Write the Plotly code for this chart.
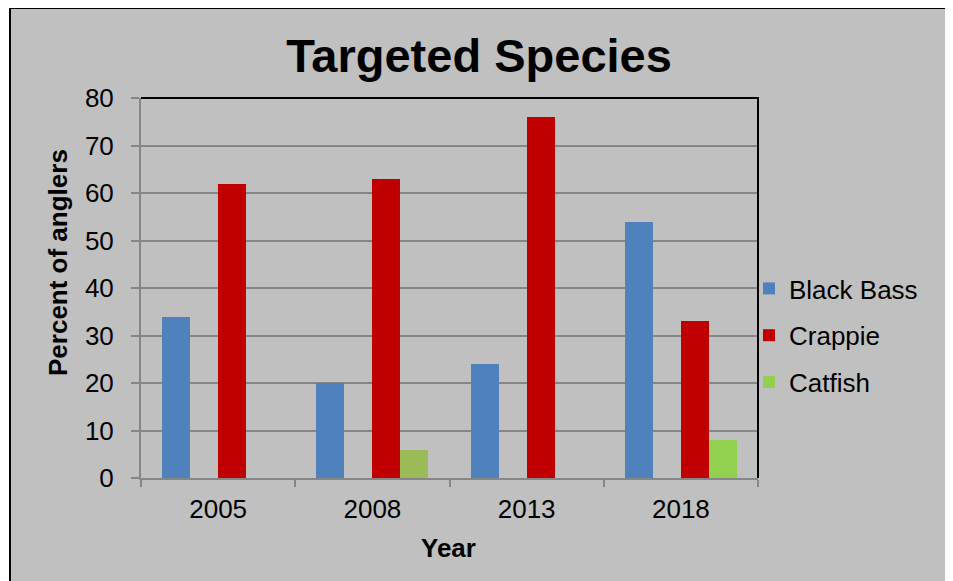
import plotly.graph_objects as go

years = ["2005", "2008", "2013", "2018"]
black_bass = [34, 20, 24, 54]
crappie = [62, 63, 76, 33]
catfish = [0, 6, 0, 8]
catfish_colors = ["#92D050", "#9BBB59", "#92D050", "#92D050"]
y_ticks = [0, 10, 20, 30, 40, 50, 60, 70, 80]

FONT = "Liberation Sans, Arial, sans-serif"
W, H = 953, 581
OFF = 8  # page body margin offset
PL, PT, PW, PH = 141, 98, 617, 380  # plot area in reference pixels
ML, MT = PL - OFF, PT - OFF
MR = W - ML - PW
MB = H - MT - PH


def px2x(px):
    return (px - PL) / PW


def py2y(py):
    return (PT + PH - py) / PH


bw = 28 / 154
fig = go.Figure()
fig.add_trace(go.Bar(x=years, y=black_bass, name="Black Bass", marker_color="#4F81BD",
                     marker_line_width=0, width=bw, offset=-2 * bw, legendgroup="a"))
fig.add_trace(go.Bar(x=years, y=crappie, name="Crappie", marker_color="#C00000",
                     marker_line_width=0, width=bw, offset=0, legendgroup="b"))
fig.add_trace(go.Bar(x=years, y=catfish, name="Catfish", marker_color=catfish_colors,
                     marker_line_width=0, width=bw, offset=bw, legendgroup="c"))

fig.update_layout(
    width=W, height=H,
    margin=dict(l=ML, r=MR, t=MT, b=MB, pad=0),
    paper_bgcolor="white",
    plot_bgcolor="white",
    font=dict(family=FONT, size=26, color="black"),
    showlegend=True,
    bargap=0.0,
    title=dict(text="<b>Targeted Species</b>", font=dict(size=47, family=FONT, color="black"),
               x=(479 - OFF) / W, xanchor="center", xref="container",
               y=1 - (56 - OFF) / H, yanchor="middle", yref="container"),
    legend=dict(x=px2x(749), y=py2y(265), xanchor="left", yanchor="top",
                bgcolor="rgba(0,0,0,0)", font=dict(size=26, family=FONT),
                tracegroupgap=10, traceorder="grouped", itemsizing="constant"),
    xaxis=dict(type="category", showgrid=False, showline=True, linecolor="#868686",
               linewidth=2, ticks="outside", tickson="boundaries", ticklen=7,
               tickcolor="#868686", tickwidth=2, ticklabelstandoff=7,
               tickfont=dict(size=26, family=FONT, color="black"), zeroline=False),
    yaxis=dict(range=[0, 80], tickvals=y_ticks, showgrid=True, gridcolor="#868686",
               gridwidth=2, showline=True, linecolor="#868686", linewidth=2,
               ticks="outside", ticklen=8, tickcolor="#868686", tickwidth=2,
               ticklabelstandoff=12, zeroline=False,
               tickfont=dict(size=26, family=FONT, color="black")),
    shapes=[
        dict(type="rect", xref="paper", yref="paper", layer="below",
             x0=px2x(10), x1=px2x(952), y0=py2y(8), y1=py2y(620),
             fillcolor="#C0C0C0", line=dict(color="black", width=2)),
        dict(type="path", xref="paper", yref="paper", layer="above",
             path="M 0,1 L 1,1 L 1,0", line=dict(color="black", width=2)),
    ],
    annotations=[
        dict(text="<b>Percent of anglers</b>", xref="paper", yref="paper",
             x=px2x(58), y=py2y(263), textangle=-90, showarrow=False,
             xanchor="center", yanchor="middle", font=dict(size=26, family=FONT)),
        dict(text="<b>Year</b>", xref="paper", yref="paper",
             x=px2x(448), y=py2y(548), showarrow=False,
             xanchor="center", yanchor="middle", font=dict(size=26, family=FONT)),
    ],
)

fig.write_html("out.html")
